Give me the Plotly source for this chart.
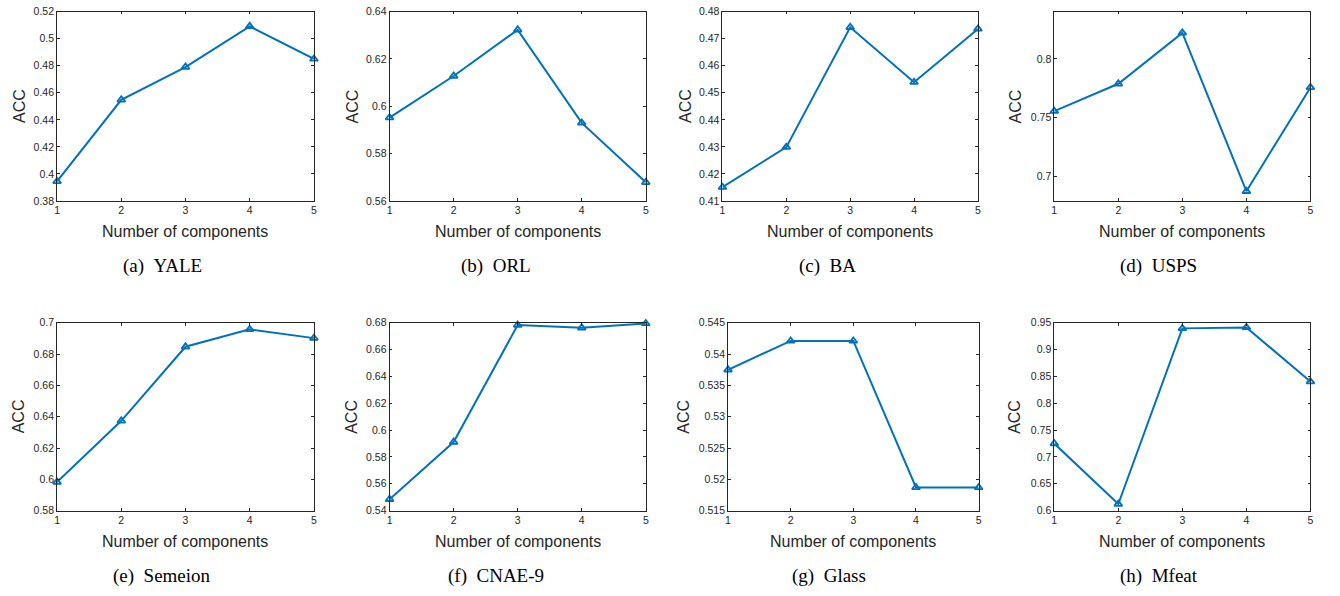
import plotly.graph_objects as go

# ---------------- data ----------------
components = [1, 2, 3, 4, 5]

captions = ["(a)", "(b)", "(c)", "(d)", "(e)", "(f)", "(g)", "(h)"]
datasets = ["YALE", "ORL", "BA", "USPS", "Semeion", "CNAE-9", "Glass", "Mfeat"]

acc_yale = [0.3945, 0.4548, 0.4790, 0.5091, 0.4850]
acc_orl = [0.5952, 0.6128, 0.6323, 0.5930, 0.5679]
acc_ba = [0.4151, 0.4299, 0.4742, 0.4539, 0.4736]
acc_usps = [0.7556, 0.7789, 0.8222, 0.6875, 0.7758]
acc_semeion = [0.5983, 0.6374, 0.6847, 0.6958, 0.6902]
acc_cnae9 = [0.5485, 0.5911, 0.6783, 0.6763, 0.6795]
acc_glass = [0.5375, 0.5421, 0.5421, 0.5187, 0.5187]
acc_mfeat = [0.7250, 0.6122, 0.9396, 0.9414, 0.8404]

series = [acc_yale, acc_orl, acc_ba, acc_usps, acc_semeion, acc_cnae9, acc_glass, acc_mfeat]

# y ticks (values and MATLAB-style labels)
yt_yale = [0.38, 0.40, 0.42, 0.44, 0.46, 0.48, 0.50, 0.52]
yl_yale = ["0.38", "0.4", "0.42", "0.44", "0.46", "0.48", "0.5", "0.52"]
yt_orl = [0.56, 0.58, 0.60, 0.62, 0.64]
yl_orl = ["0.56", "0.58", "0.6", "0.62", "0.64"]
yt_ba = [0.41, 0.42, 0.43, 0.44, 0.45, 0.46, 0.47, 0.48]
yl_ba = ["0.41", "0.42", "0.43", "0.44", "0.45", "0.46", "0.47", "0.48"]
yt_usps = [0.70, 0.75, 0.80]
yl_usps = ["0.7", "0.75", "0.8"]
yt_semeion = [0.58, 0.60, 0.62, 0.64, 0.66, 0.68, 0.70]
yl_semeion = ["0.58", "0.6", "0.62", "0.64", "0.66", "0.68", "0.7"]
yt_cnae9 = [0.54, 0.56, 0.58, 0.60, 0.62, 0.64, 0.66, 0.68]
yl_cnae9 = ["0.54", "0.56", "0.58", "0.6", "0.62", "0.64", "0.66", "0.68"]
yt_glass = [0.515, 0.520, 0.525, 0.530, 0.535, 0.540, 0.545]
yl_glass = ["0.515", "0.52", "0.525", "0.53", "0.535", "0.54", "0.545"]
yt_mfeat = [0.60, 0.65, 0.70, 0.75, 0.80, 0.85, 0.90, 0.95]
yl_mfeat = ["0.6", "0.65", "0.7", "0.75", "0.8", "0.85", "0.9", "0.95"]

ytick_vals = [yt_yale, yt_orl, yt_ba, yt_usps, yt_semeion, yt_cnae9, yt_glass, yt_mfeat]
ytick_text = [yl_yale, yl_orl, yl_ba, yl_usps, yl_semeion, yl_cnae9, yl_glass, yl_mfeat]

y_ranges = [
    [0.38, 0.52], [0.56, 0.64], [0.41, 0.48], [0.6792, 0.8403],
    [0.58, 0.70], [0.54, 0.68], [0.515, 0.545], [0.60, 0.95],
]

# ---------------- layout (pixels) ----------------
W, H = 1340, 596
# plot frames: (left, right, top, bottom) in pixels
frames = [
    (54.3, 312.3, 5.7, 199.0),
    (388.3, 645.7, 5.7, 199.0),
    (722.7, 979.3, 5.7, 199.0),
    (1056.0, 1313.3, 5.7, 199.0),
    (54.3, 312.3, 323.3, 515.0),
    (388.3, 645.7, 323.3, 515.0),
    (728.3, 980.0, 323.3, 515.0),
    (1056.0, 1313.3, 323.3, 515.0),
]
caption_x = [160, 495, 828, 1161, 160, 495, 830, 1161]
acc_offset = [37.6, 37.6, 37.0, 39.3, 38.6, 37.6, 44.3, 39.3]

BLUE = "#0072BD"
AXC = "#262626"
SANS = "Liberation Sans, Arial, Helvetica, sans-serif"
SERIF = "Liberation Serif, Times New Roman, serif"

fig = go.Figure()
layout = dict(
    width=W, height=H,
    margin=dict(l=0, r=0, t=0, b=0),
    paper_bgcolor="white", plot_bgcolor="white",
    showlegend=False,
)
annotations = []

def px_x(p):
    return p / W

def px_y(p):
    return 1 - p / H

for i in range(8):
    k = "" if i == 0 else str(i + 1)
    l, r, t, b = frames[i]
    fig.add_trace(go.Scatter(
        x=components, y=series[i], xaxis="x" + k, yaxis="y" + k,
        mode="lines+markers",
        line=dict(color=BLUE, width=2),
        marker=dict(symbol="triangle-up-open", size=7, color=BLUE, line=dict(width=1.8)),
        cliponaxis=False, hoverinfo="x+y",
    ))
    common = dict(
        showline=True, linecolor=AXC, linewidth=0.8, mirror="ticks",
        ticks="inside", ticklen=3, tickwidth=0.8, tickcolor=AXC,
        showgrid=False, zeroline=False,
        tickfont=dict(family=SANS, size=10.5, color=AXC),
    )
    layout["xaxis" + k] = dict(
        domain=[px_x(l), px_x(r)], anchor="y" + k, range=[1, 5],
        tickvals=components, ticktext=[str(c) for c in components], **common,
    )
    layout["yaxis" + k] = dict(
        domain=[px_y(b), px_y(t)], anchor="x" + k, range=y_ranges[i],
        tickvals=ytick_vals[i], ticktext=ytick_text[i], **common,
    )
    # x-axis title
    annotations.append(dict(
        text="Number of components", xref="paper", yref="paper",
        x=px_x((l + r) / 2), y=px_y(b + 31), xanchor="center", yanchor="middle",
        showarrow=False, font=dict(family=SANS, size=16, color=AXC),
    ))
    # y-axis title
    annotations.append(dict(
        text="ACC", xref="paper", yref="paper", textangle=-90,
        x=px_x(l - acc_offset[i]), y=px_y((t + b) / 2), xanchor="center", yanchor="middle",
        showarrow=False, font=dict(family=SANS, size=16, color=AXC),
    ))
    # caption
    annotations.append(dict(
        text=captions[i] + "\u00a0\u00a0" + datasets[i], xref="paper", yref="paper",
        x=px_x(caption_x[i]), y=px_y(b + 66.5), xanchor="center", yanchor="middle",
        showarrow=False, font=dict(family=SERIF, size=19, color="black"),
    ))

layout["annotations"] = annotations
fig.update_layout(**layout)
fig.write_html(
    "out.html",
    config={"displayModeBar": False},
    post_script="document.body.style.margin='0';document.body.style.overflow='hidden';",
)
